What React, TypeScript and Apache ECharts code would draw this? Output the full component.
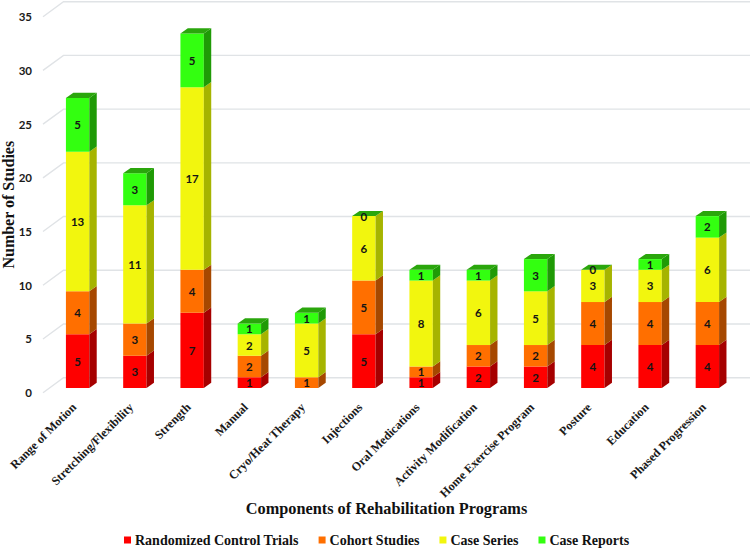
import React, { useEffect, useRef } from "react";
import * as echarts from "echarts";

const categories = ["Range of Motion", "Stretching/Flexibility", "Strength", "Manual", "Cryo/Heat Therapy", "Injections", "Oral Medications", "Activity Modification", "Home Exercise Program", "Posture", "Education", "Phased Progression"];
const rct = [5, 3, 7, 1, null, 5, 1, 2, 2, 4, 4, 4];
const cohort = [4, 3, 4, 2, 1, 5, 1, 2, 2, 4, 4, 4];
const caseSeries = [13, 11, 17, 2, 5, 6, 8, 6, 5, 3, 3, 6];
const caseReports = [5, 3, 5, 1, 1, 0, 1, 1, 3, 0, 1, 2];
const yTicks = [0, 5, 10, 15, 20, 25, 30, 35];
const seriesNames = ["Randomized Control Trials", "Cohort Studies", "Case Series", "Case Reports"];
const seriesValues = [rct, cohort, caseSeries, caseReports];
const frontColors = ["#fe0000", "#ff6f00", "#f2f60e", "#33ff10"];
const sideColors = ["#a60000", "#a64800", "#a6b400", "#1f9a06"];
const topColor = "#2aa60c";

const BAR_W = 23.4, DX = 7.4, DY = 5.2, LIFT = 4.7;
const WALL_LEFT = 6, WALL_DX = 20.5, WALL_DY = 15;
const SERIF = '"Liberation Serif", serif';
const SANS = 'Lato, sans-serif';

function makeBarSeries(idx: number) {
  const rows: number[][] = [];
  seriesValues[idx].forEach((v, i) => {
    if (v === null) return;
    let base = 0;
    for (let s = 0; s < idx; s++) base += seriesValues[s][i] || 0;
    rows.push([i, base, base + v, v]);
  });
  return {
    type: "custom",
    name: seriesNames[idx],
    itemStyle: { color: frontColors[idx] },
    encode: { x: 0, y: [1, 2] },
    data: rows,
    z: 5,
    clip: false,
    renderItem: (_p: any, api: any) => {
      const a = api.coord([api.value(0), api.value(1)]);
      const b = api.coord([api.value(0), api.value(2)]);
      const x0 = a[0] - BAR_W / 2, x1 = a[0] + BAR_W / 2;
      const y0 = a[1] - LIFT, y1 = b[1] - LIFT;
      const children: any[] = [
        { type: "rect", shape: { x: x0, y: y1, width: BAR_W, height: y0 - y1 }, style: { fill: frontColors[idx] } },
        { type: "polygon", shape: { points: [[x1, y0], [x1 + DX, y0 - DY], [x1 + DX, y1 - DY], [x1, y1]] }, style: { fill: sideColors[idx] } },
      ];
      if (idx === seriesValues.length - 1) {
        children.push({ type: "polygon", shape: { points: [[x0, y1], [x0 + DX, y1 - DY], [x1 + DX, y1 - DY], [x1, y1]] }, style: { fill: topColor } });
      }
      children.push({ type: "text", style: { text: String(api.value(3)), x: a[0], y: (y0 + y1) / 2, align: "center", verticalAlign: "middle", font: `bold 11.5px ${SANS}`, fill: "#151515" } });
      return { type: "group", children };
    },
  };
}

export default function App() {
  const ref = useRef<HTMLDivElement>(null);
  useEffect(() => {
    const chart = echarts.init(ref.current!, undefined, { renderer: "svg" });
    chart.setOption({
      animation: false,
      backgroundColor: "#fff",
      grid: { left: 49, right: 14, top: 16.7, bottom: 155.3, outerBoundsMode: "none" },
      legend: {
        data: seriesNames,
        left: 124,
        top: 533,
        padding: 0,
        icon: "rect",
        itemWidth: 7,
        itemHeight: 7,
        itemGap: 20,
        selectedMode: false,
        textStyle: { fontFamily: SERIF, fontWeight: "bold", fontSize: 14, lineHeight: 14, color: "#111", padding: [0, 0, 0, -1] },
      },
      xAxis: {
        type: "category",
        data: categories,
        name: "Components of Rehabilitation Programs",
        nameLocation: "middle",
        nameGap: 108,
        nameMoveOverlap: false,
        nameTextStyle: { fontFamily: SERIF, fontWeight: "bold", fontSize: 16.3, color: "#111", padding: [0, 12, 0, 0] },
        axisLine: { show: false },
        axisTick: { show: false },
        axisLabel: { rotate: 45, interval: 0, margin: 9, fontFamily: SERIF, fontWeight: "bold", fontSize: 12.2, color: "#1a1a1a", padding: [0, 5, 0, 0] },
      },
      yAxis: {
        type: "value",
        min: 0,
        max: 35,
        interval: 5,
        name: "Number of Studies",
        nameLocation: "middle",
        nameGap: 33,
        nameMoveOverlap: false,
        nameTextStyle: { fontFamily: SERIF, fontWeight: "bold", fontSize: 16, color: "#111" },
        axisLine: { show: false },
        axisTick: { show: false },
        splitLine: { show: false },
        axisLabel: { margin: 17, fontFamily: SANS, fontWeight: "bold", fontSize: 11.5, color: "#1a1a1a" },
      },
      series: [
        {
          type: "custom",
          name: "wall",
          silent: true,
          z: 1,
          clip: false,
          encode: { x: 0, y: 1 },
          data: yTicks.map((t) => [0, t]),
          renderItem: (p: any, api: any) => {
            const y = api.coord([0, api.value(1)])[1];
            const xl = p.coordSys.x - WALL_LEFT;
            return {
              type: "polyline",
              shape: { points: [[xl, y], [xl + WALL_DX, y - WALL_DY], [api.getWidth(), y - WALL_DY]] },
              style: { stroke: "#e0e3e6", lineWidth: 1.4, fill: "none" },
            };
          },
        },
        ...seriesNames.map((_, i) => makeBarSeries(i)),
      ],
    });
    return () => chart.dispose();
  }, []);
  return <div ref={ref} style={{ position: "fixed", left: 0, top: 0, width: 750, height: 548 }} />;
}
